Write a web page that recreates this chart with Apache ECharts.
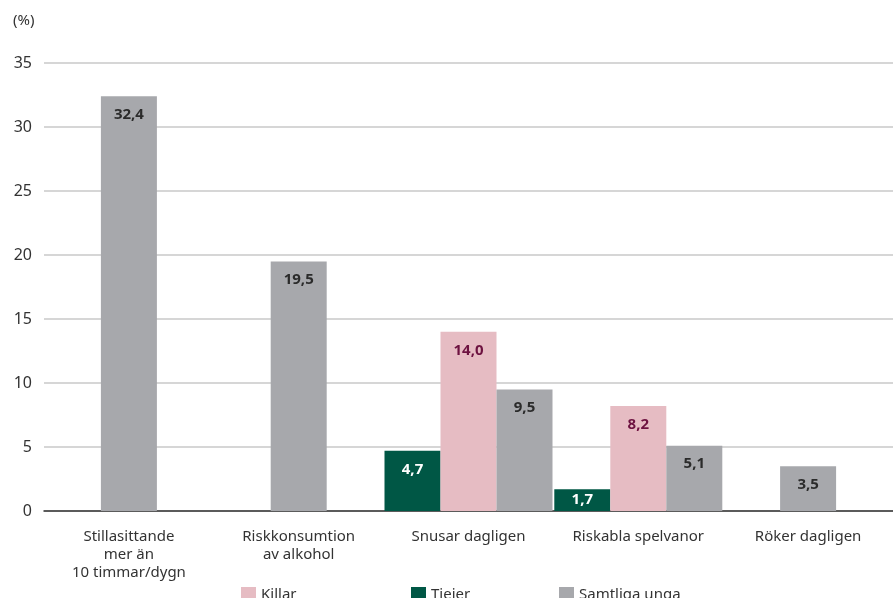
<!DOCTYPE html>
<html>
<head>
    <meta charset="utf-8">
    <title>Andel unga</title>
    <script src="https://cdn.jsdelivr.net/npm/echarts@6/dist/echarts.min.js"></script>
    <style>
        body { margin: 0; background: #fff; }
        #main { width: 893px; height: 598px; }
    </style>
</head>
<body>
<div id="main"></div>
<script>
    // kategorier och värden (%)
    const categories = ['Stillasittande\nmer än\n10 timmar/dygn', 'Riskkonsumtion\nav alkohol', 'Snusar dagligen', 'Riskabla spelvanor', 'Röker dagligen'];
    const killar = [null, null, 14.0, 8.2, null];
    const tjejer = [null, null, 4.7, 1.7, null];
    const samtliga = [null, null, 9.5, 5.1, null];
    // samtliga unga där det bara finns en stapel (ritas i mitten)
    const samtligaEnsam = [32.4, 19.5, null, null, 3.5];
    const yTicks = [0, 5, 10, 15, 20, 25, 30, 35];

    const font = '"Noto Sans", "Open Sans", sans-serif';
    const fmt = p => p.value.toFixed(1).replace('.', ',');

    function lbl(color) {
        return {
            show: true,
            position: 'insideTop',
            distance: 11,
            formatter: fmt,
            color: color,
            fontFamily: font,
            fontWeight: 'bold',
            fontSize: 15
        };
    }

    const myChart = echarts.init(document.getElementById('main'));
    myChart.setOption({
        animation: false,
        textStyle: { fontFamily: font },
        title: {
            text: '(%)', left: 8, top: 8,
            textStyle: { fontSize: 15, fontWeight: 'normal', color: '#333', fontFamily: font }
        },
        legend: [
            { data: ['Killar'], left: 236, top: 582 },
            { data: ['Tjejer'], left: 406, top: 582 },
            { data: ['Samtliga unga'], left: 554, top: 582 }
        ].map(l => Object.assign(l, {
            icon: 'rect', itemWidth: 15, itemHeight: 15, itemGap: 7,
            textStyle: { fontSize: 15, color: '#333', fontFamily: font }
        })),
        grid: { left: 44, right: 0, top: 63, bottom: 87, containLabel: false },
        xAxis: {
            type: 'category',
            data: categories,
            axisTick: { show: false },
            axisLine: { lineStyle: { color: '#333', width: 1.5 } },
            axisLabel: { color: '#333', fontSize: 15, margin: 17, lineHeight: 18, interval: 0, fontFamily: font }
        },
        yAxis: {
            type: 'value',
            min: yTicks[0], max: yTicks[yTicks.length - 1], interval: 5,
            axisLabel: { color: '#333', fontSize: 16, margin: 12, fontFamily: font },
            axisLine: { show: false },
            axisTick: { show: false },
            splitLine: { lineStyle: { color: '#c8c8c8', width: 1.5 } }
        },
        series: [
            {
                name: 'Tjejer', type: 'bar', data: tjejer.map(v => v !== null && v < 3 ? { value: v, label: { position: 'inside' } } : v),
                barWidth: 56, barGap: '0%',
                itemStyle: { color: '#005745' },
                label: lbl('#ffffff')
            },
            {
                name: 'Killar', type: 'bar', stack: 'mitt', data: killar,
                barWidth: 56, barGap: '0%',
                itemStyle: { color: '#e6bcc3' },
                label: lbl('#6d1240')
            },
            {
                name: 'Samtliga unga', type: 'bar', stack: 'mitt', data: samtligaEnsam,
                barWidth: 56, barGap: '0%',
                itemStyle: { color: '#a7a8ac' },
                label: lbl('#2b2b2b')
            },
            {
                name: 'Samtliga unga', type: 'bar', data: samtliga,
                barWidth: 56, barGap: '0%',
                itemStyle: { color: '#a7a8ac' },
                label: lbl('#2b2b2b')
            }
        ]
    });
</script>
</body>
</html>
